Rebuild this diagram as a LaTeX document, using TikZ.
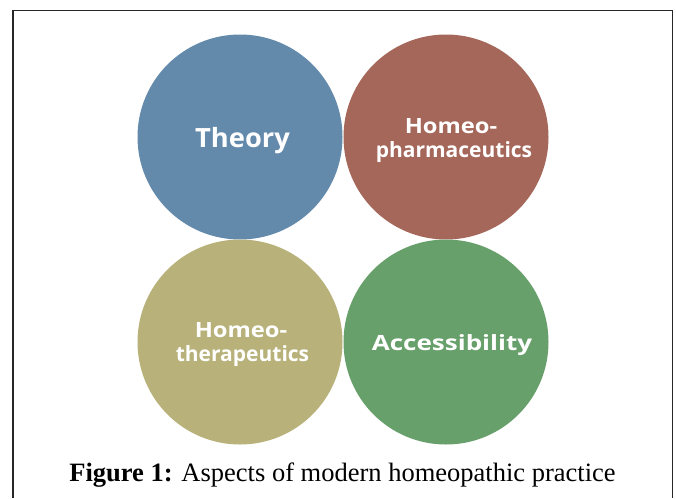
\documentclass[tikz,border=0pt]{standalone}
\usepackage{fontspec}
\setmainfont{Liberation Serif}
\newfontfamily\circfont{Open Sans}
\definecolor{cblue}{HTML}{6389AB}
\definecolor{cred}{HTML}{A5675A}
\definecolor{ckhaki}{HTML}{B8B27A}
\definecolor{cgreen}{HTML}{67A06A}
\begin{document}
\begin{tikzpicture}[x=1pt,y=-1pt,
  disc/.style={circle,minimum size=205pt,inner sep=0pt},
  lbl/.style={text=white,font=\circfont\bfseries\fontsize{21}{24}\selectfont,inner sep=0pt,anchor=base}]
\useasboundingbox (0,0) rectangle (676,498);
\fill[white] (0,0) rectangle (676,498);
\draw[line width=1.4pt,black!85] (13,498) -- (13,10.5) -- (672.5,10.5) -- (672.5,498);
\node[disc,fill=cblue] (theory) at (240,137) {};
\node[disc,fill=cred] (pharma) at (446,137) {};
\node[disc,fill=ckhaki] (thera) at (240,342) {};
\node[disc,fill=cgreen] (access) at (446,342) {};
\node[lbl,font=\circfont\bfseries\fontsize{26.5}{28}\selectfont] (theoryt) at (242.5,147) {\scalebox{1.03}[1]{Theory}};
\node[lbl] (pharma1) at (451,133) {\scalebox{1.13}[1]{Homeo-}};
\node[lbl] (pharma2) at (454,157) {pharmaceutics};
\node[lbl] (thera1) at (241,337) {\scalebox{1.13}[1]{Homeo-}};
\node[lbl] (thera2) at (242.5,361) {therapeutics};
\node[lbl] (accesst) at (452,350) {\scalebox{1.24}[1]{Accessibility}};
\node[inner sep=0pt,font=\fontsize{26.5}{30}\selectfont,anchor=base] (cap) at (342.5,481) {\textbf{Figure 1:} Aspects of modern homeopathic practice};
\end{tikzpicture}
\end{document}
